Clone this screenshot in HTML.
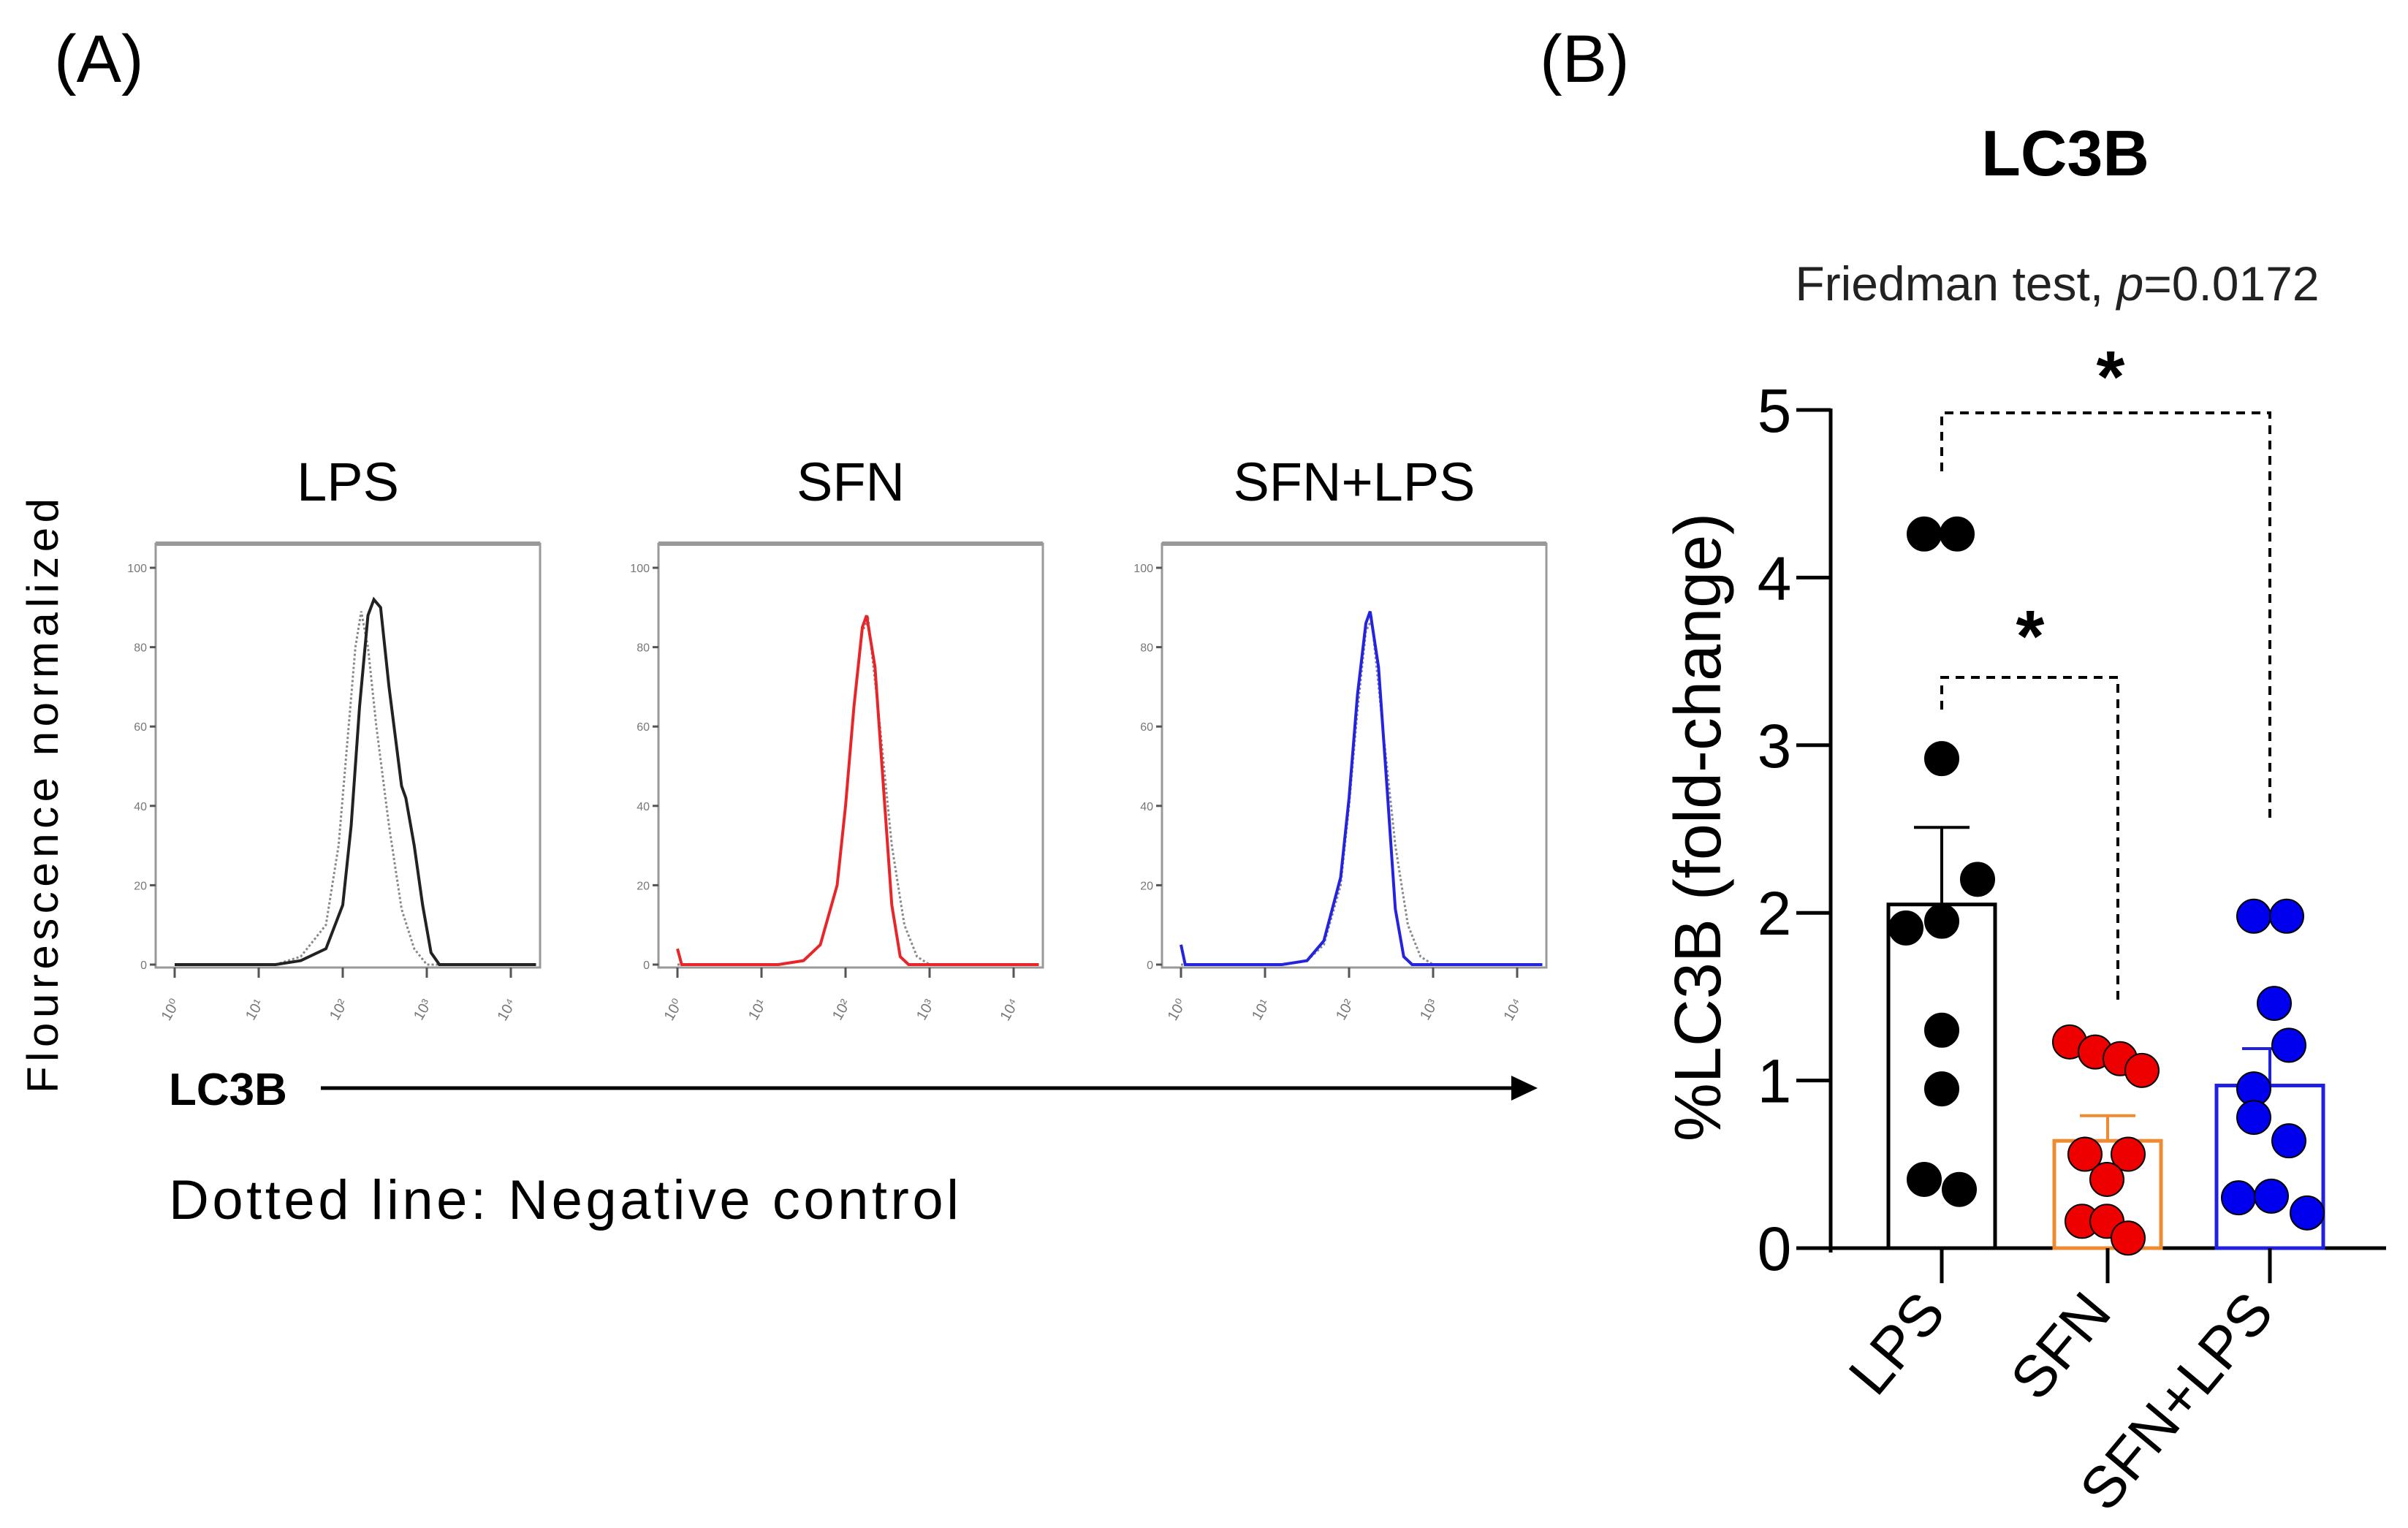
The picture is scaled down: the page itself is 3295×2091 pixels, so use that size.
<!DOCTYPE html>
<html><head><meta charset="utf-8"><style>
html,body{margin:0;padding:0;background:#fff;}
svg{display:block;}
text{font-family:"Liberation Sans",sans-serif;}
</style></head><body>
<svg id="fig" width="3295" height="2091" viewBox="0 0 3295 2091" xmlns="http://www.w3.org/2000/svg">
<text x="74" y="112" font-size="92">(A)</text>
<text x="2107" y="112" font-size="92">(B)</text>
<text x="63" y="1089" font-size="60" text-anchor="middle" transform="rotate(-90 63 1089)" dominant-baseline="middle" textLength="814">Flourescence normalized</text>
<text x="231" y="1512" font-size="62" font-weight="bold">LC3B</text>
<line x1="439" y1="1489" x2="2080" y2="1489" stroke="#000" stroke-width="5"/>
<polygon points="2104,1489 2068,1472 2068,1506" fill="#000"/>
<text x="231" y="1668" font-size="76" textLength="1081">Dotted line: Negative control</text>
<g id="hists"></g>
<g id="bars"></g>
</svg>
<script>
const NS="http://www.w3.org/2000/svg";
function mk(tag,attrs,parent){const e=document.createElementNS(NS,tag);for(const k in attrs)e.setAttribute(k,attrs[k]);parent.appendChild(e);return e;}

// ---------- Histogram data (log10 x, % of max) ----------
const histTitles=["LPS","SFN","SFN+LPS"];
const histColors=["#222","#e8262a","#2323e0"];
const lpsSample=[[0,0],[1.2,0],[1.5,1],[1.8,4],[2.0,15],[2.1,35],[2.2,65],[2.3,88],[2.37,92],[2.45,90],[2.55,70],[2.7,45],[2.75,42],[2.85,30],[2.95,15],[3.05,3],[3.15,0],[4.3,0]];
const lpsControl=[[0,0],[1.2,0],[1.5,2],[1.8,10],[1.95,30],[2.05,55],[2.15,80],[2.22,89],[2.3,80],[2.4,60],[2.55,35],[2.7,14],[2.85,4],[3.0,0],[4.3,0]];
const sfnSample=[[0,4],[0.05,0],[1.2,0],[1.5,1],[1.7,5],[1.9,20],[2.0,40],[2.1,65],[2.2,85],[2.25,88],[2.35,75],[2.45,45],[2.55,15],[2.65,2],[2.75,0],[4.3,0]];
const sfnControl=[[0,0],[1.2,0],[1.5,1],[1.7,5],[1.9,20],[2.0,40],[2.1,65],[2.2,84],[2.27,87],[2.4,62],[2.55,30],[2.7,10],[2.85,2],[3.0,0],[4.3,0]];
const comboSample=[[0,5],[0.05,0],[1.2,0],[1.5,1],[1.7,6],[1.9,22],[2.0,42],[2.1,68],[2.2,86],[2.25,89],[2.35,75],[2.45,45],[2.55,14],[2.65,2],[2.75,0],[4.3,0]];
const comboControl=[[0,0],[1.2,0],[1.5,1],[1.7,5],[1.9,20],[2.0,40],[2.1,64],[2.2,84],[2.27,87],[2.4,60],[2.55,30],[2.7,10],[2.85,2],[3.0,0],[4.3,0]];
const samples=[lpsSample,sfnSample,comboSample];
const controls=[lpsControl,sfnControl,comboControl];
const yTicksHist=[0,20,40,60,80,100];
const xDecades=[0,1,2,3,4];

const boxLeft=[213,901,1590], boxW=526, boxTop=744, boxH=580;
const hg=document.getElementById('hists');
for(let i=0;i<3;i++){
  const L=boxLeft[i];
  const xs=v=>L+26+v*115;
  const ys=v=>boxTop+boxH-4-v*5.43;
  const g=mk('g',{},hg);
  
  
  const t=mk('text',{x:L+boxW/2,y:685,'font-size':74,'text-anchor':'middle'},g);
  t.textContent=histTitles[i];
  
  
  const r=mk('rect',{x:L,y:boxTop,width:boxW,height:boxH,fill:'none',stroke:'#999','stroke-width':3},g);
  
  
  mk('line',{x1:L,y1:boxTop,x2:L+boxW,y2:boxTop,stroke:'#999','stroke-width':6},g);
  yTicksHist.forEach(v=>{
    const tk=mk('line',{x1:L-8,y1:ys(v),x2:L,y2:ys(v),stroke:'#555','stroke-width':3},g);
    
    
    const tl=mk('text',{x:L-12,y:ys(v)+6,'font-size':16,'text-anchor':'end',fill:'#777'},g);
    tl.textContent=v;
    
    
  });
  xDecades.forEach(d=>{
    const tk=mk('line',{x1:xs(d),y1:boxTop+boxH,x2:xs(d),y2:boxTop+boxH+14,stroke:'#555','stroke-width':3},g);
    
    
    const tl=mk('text',{x:xs(d),y:1385,'font-size':20,'text-anchor':'middle',fill:'#777',transform:`rotate(-60 ${xs(d)} 1385)`},g);
    tl.textContent='10'+['⁰','¹','²','³','⁴'][d];
    
    
  });
  const pts=a=>a.map(p=>xs(p[0]).toFixed(1)+','+ys(p[1]).toFixed(1)).join(' ');
  const c=mk('polyline',{points:pts(controls[i]),fill:'none',stroke:'#888','stroke-width':3,'stroke-dasharray':'3 3'},g);
  
  
  const s=mk('polyline',{points:pts(samples[i]),fill:'none',stroke:histColors[i],'stroke-width':4},g);
  
  
}

// ---------- Bar chart data ----------
const categories=["LPS","SFN","SFN+LPS"];
const means=[2.05,0.64,0.97];
const sems=[0.46,0.15,0.22];
const lpsPoints=[4.26,4.26,2.92,2.2,1.91,1.95,1.30,0.95,0.41,0.35];
const sfnPoints=[1.23,1.17,1.13,1.06,0.56,0.56,0.41,0.16,0.16,0.06];
const comboPoints=[1.98,1.98,1.46,1.21,0.95,0.78,0.64,0.30,0.31,0.21];
const jitter=[[-24,21,0,49,-49,0,0,0,-24,24],[-52,-17,17,47,-31,28,-1,-35,-1,28],[-22,23,6,26,-22,-22,26,-43,2,51]];
const yTicks=[0,1,2,3,4,5];
const groups=[lpsPoints,sfnPoints,comboPoints];
const barStroke=["#000","#f08a30","#2020e0"];
const dotFill=["#000","#ee0000","#0000ee"];

const X0=2505, Y0=1708, unit=229.4;
const catX=[2657,2884,3106];
const yv=v=>Y0-v*unit;
const bg=document.getElementById('bars');

const title=mk('text',{x:2826,y:240,'font-size':88,'font-weight':'bold','text-anchor':'middle'},bg);
title.textContent='LC3B';


const sub=mk('text',{x:2815,y:411,'font-size':66,'text-anchor':'middle',fill:'#222'},bg);
sub.innerHTML='Friedman test, <tspan font-style="italic">p</tspan>=0.0172';


const yt=mk('text',{x:2330,y:1132,'font-size':90,'text-anchor':'middle',transform:'rotate(-90 2330 1132)','dominant-baseline':'middle'},bg);
yt.textContent='%LC3B (fold-change)';



const yax=mk('line',{x1:X0,y1:yv(5)-2,x2:X0,y2:Y0+6,stroke:'#000','stroke-width':5},bg);


const xax=mk('line',{x1:2458,y1:Y0,x2:3265,y2:Y0,stroke:'#000','stroke-width':5},bg);


yTicks.forEach(v=>{
  const tk=mk('line',{x1:2458,y1:yv(v),x2:X0,y2:yv(v),stroke:'#000','stroke-width':5},bg);
  
  
  const tl=mk('text',{x:2428,y:yv(v)+30,'font-size':84,'text-anchor':'middle'},bg);
  tl.textContent=v;
  
  
});
categories.forEach((c,i)=>{
  const cx=catX[i];
  const bw=146;
  const bar=mk('rect',{x:cx-bw/2,y:yv(means[i]),width:bw,height:Y0-yv(means[i]),fill:'#fff',stroke:barStroke[i],'stroke-width':5},bg);
  
  
  const e1=mk('line',{x1:cx,y1:yv(means[i]),x2:cx,y2:yv(means[i]+sems[i]),stroke:barStroke[i],'stroke-width':4},bg);
  
  
  const e2=mk('line',{x1:cx-38,y1:yv(means[i]+sems[i]),x2:cx+38,y2:yv(means[i]+sems[i]),stroke:barStroke[i],'stroke-width':4},bg);
  
  
  groups[i].forEach((v,j)=>{
    const d=mk('circle',{cx:cx+jitter[i][j],cy:yv(v),r:23,fill:dotFill[i],stroke:'#000','stroke-width':2},bg);
    
    
  });
  const tk=mk('line',{x1:cx,y1:Y0,x2:cx,y2:1756,stroke:'#000','stroke-width':5},bg);
  
  
  const ex=cx+8, ey=1798;
  const tl=mk('text',{x:ex,y:ey,'font-size':80,'text-anchor':'end',transform:`rotate(-50 ${ex} ${ey})`},bg);
  tl.textContent=c;
  
  
});
// significance brackets
const br1=mk('polyline',{points:`${catX[0]},645 ${catX[0]},565 ${catX[2]},565 ${catX[2]},1128`,fill:'none',stroke:'#000','stroke-width':4,'stroke-dasharray':'12 9'},bg);


const br2=mk('polyline',{points:`${catX[0]},971 ${catX[0]},927 2898,927 2898,1369`,fill:'none',stroke:'#000','stroke-width':4,'stroke-dasharray':'12 9'},bg);


const s1=mk('text',{x:2888,y:550,'font-size':100,'font-weight':'bold','text-anchor':'middle'},bg);
s1.textContent='*';


const s2=mk('text',{x:2778,y:905,'font-size':100,'font-weight':'bold','text-anchor':'middle'},bg);
s2.textContent='*';


</script>
</body></html>
